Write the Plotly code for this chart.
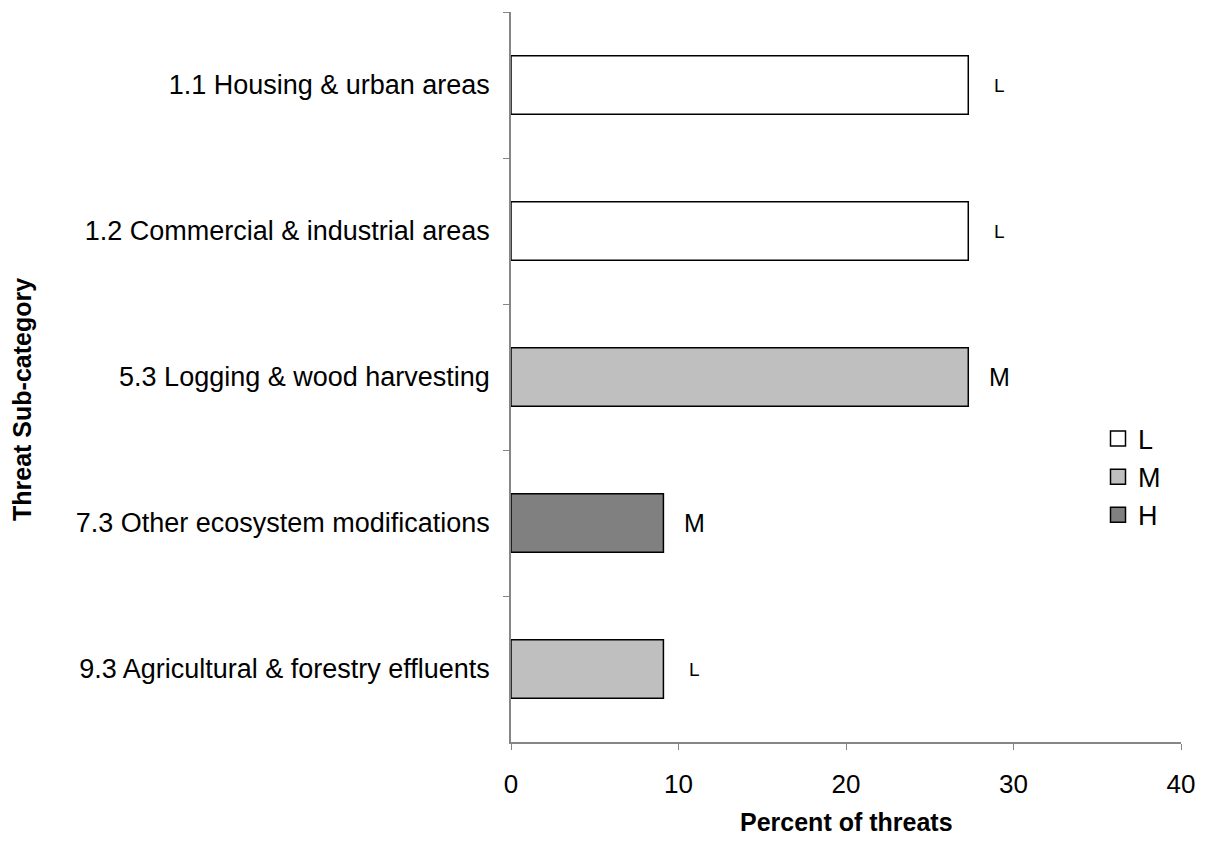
import plotly.graph_objects as go

categories = ["1.1 Housing & urban areas", "1.2 Commercial & industrial areas",
              "5.3 Logging & wood harvesting", "7.3 Other ecosystem modifications",
              "9.3 Agricultural & forestry effluents"]
values = [27.3, 27.3, 27.3, 9.1, 9.1]
severity = ["L", "L", "M", "H", "M"]      # bar fill class
labels = ["L", "L", "M", "M", "L"]        # text beside bars
legend_names = ["L", "M", "H"]
x_ticks = [0, 10, 20, 30, 40]

colors = {"L": "#FFFFFF", "M": "#BFBFBF", "H": "#808080"}
label_sizes = {"L": 19, "M": 25}

FONT = "Liberation Sans, Arial, sans-serif"
# page body has 8px margin; plot area target: x 511..1181, y 12..742
L, R, T, B = 503, 33, 4, 112
PW, PH = 1206 - L - R, 846 - T - B

fig = go.Figure()
for cls in legend_names:
    ys = [c for c, s in zip(categories, severity) if s == cls]
    xs = [v for v, s in zip(values, severity) if s == cls]
    fig.add_trace(go.Bar(
        y=ys, x=xs, orientation="h", name=cls,
        marker=dict(color=colors[cls], line=dict(color="#000000", width=1.5)),
        width=0.4, showlegend=False,
    ))

# legend entries (square swatches)
for cls in legend_names:
    fig.add_trace(go.Scatter(
        x=[None], y=[None], mode="markers", name=cls,
        marker=dict(symbol="square", size=15, color=colors[cls],
                    line=dict(color="#000000", width=1.5)),
        showlegend=True,
    ))

for c, v, lab in zip(categories, values, labels):
    fig.add_annotation(x=v, y=c, xref="x", yref="y", text=lab, showarrow=False,
                       xshift=31, xanchor="center",
                       font=dict(size=label_sizes[lab], color="#000000", family=FONT))

fig.add_annotation(text="<b>Threat Sub-category</b>", xref="paper", yref="paper",
                   x=(22 - 511) / PW, y=(742 - 400) / PH, textangle=-90, showarrow=False,
                   xanchor="center", yanchor="middle",
                   font=dict(size=25, color="#000000", family=FONT))
fig.add_annotation(text="<b>Percent of threats</b>", xref="paper", yref="paper",
                   x=(846 - 511) / PW, y=-(822 - 742) / PH, showarrow=False,
                   xanchor="center", yanchor="middle",
                   font=dict(size=25, color="#000000", family=FONT))

fig.update_layout(
    width=1206, height=846,
    margin=dict(l=L, r=R, t=T, b=B),
    paper_bgcolor="white", plot_bgcolor="white",
    barmode="relative",
    font=dict(family=FONT, size=21, color="#000000"),
    showlegend=True,
    legend=dict(x=(1098 - 511) / PW, y=(742 - 477) / PH, xanchor="left", yanchor="middle",
                font=dict(size=27), bgcolor="rgba(0,0,0,0)",
                itemwidth=30, tracegroupgap=2),
    xaxis=dict(range=[0, 40], tickvals=x_ticks, showgrid=False, zeroline=False,
               showline=True, linecolor="#868686", linewidth=1.5,
               ticks="outside", ticklen=6, tickcolor="#868686",
               ticklabelstandoff=12, tickfont=dict(size=26)),
    yaxis=dict(type="category", categoryorder="array", categoryarray=categories,
               autorange="reversed", showgrid=False, zeroline=False,
               showline=True, linecolor="#868686", linewidth=1.5,
               ticks="outside", ticklen=6, tickcolor="#868686",
               tickson="boundaries", ticklabelstandoff=14,
               tickfont=dict(size=27)),
)

fig.write_html("out.html")
